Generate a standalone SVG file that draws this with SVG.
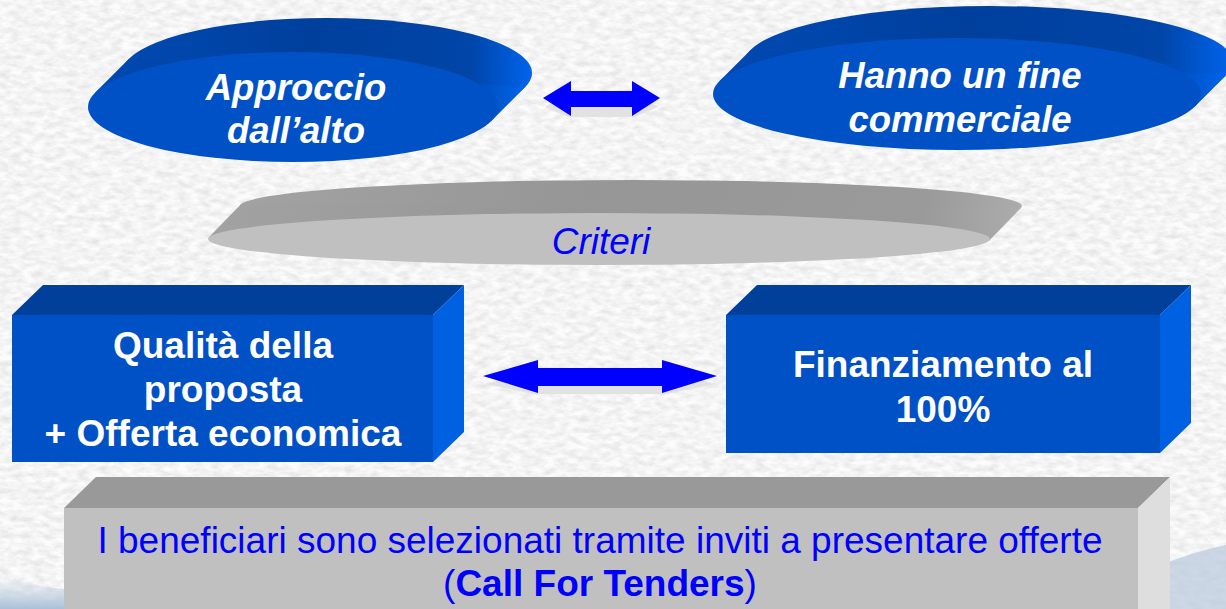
<svg xmlns="http://www.w3.org/2000/svg" width="1226" height="609" viewBox="0 0 1226 609">
  <defs>
    <filter id="paper" x="0" y="0" width="1226" height="609" filterUnits="userSpaceOnUse">
      <feTurbulence type="fractalNoise" baseFrequency="0.09 0.18" numOctaves="4" seed="7" result="n"/>
      <feColorMatrix in="n" type="matrix" values="0.4 0 0 0 0.72  0.4 0 0 0 0.72  0.4 0 0 0 0.72  0 0 0 0 1"/>
    </filter>
    <linearGradient id="blueBand" x1="0" y1="0" x2="1" y2="0">
      <stop offset="0" stop-color="#0049B2"/>
      <stop offset="0.45" stop-color="#003F9C"/>
      <stop offset="0.85" stop-color="#0045A8"/>
      <stop offset="1" stop-color="#0064EC"/>
    </linearGradient>
    <linearGradient id="grayBand" x1="0" y1="0" x2="1" y2="0">
      <stop offset="0" stop-color="#A2A2A2"/>
      <stop offset="0.45" stop-color="#969696"/>
      <stop offset="0.88" stop-color="#9A9A9A"/>
      <stop offset="1" stop-color="#ACACAC"/>
    </linearGradient>
    <linearGradient id="seaL" x1="0" y1="0" x2="0" y2="1">
      <stop offset="0" stop-color="#C9D6E4" stop-opacity="0"/>
      <stop offset="1" stop-color="#A9BFD8"/>
    </linearGradient>
  </defs>
  <style>
    .wt { font-family: "Liberation Sans", Arial, sans-serif; fill: #FFFFFF; font-weight: bold; text-anchor: middle; }
    .it { font-style: italic; font-size: 36.5px; }
    .bx { font-size: 37px; }
    .bl { font-family: "Liberation Sans", Arial, sans-serif; fill: #0000FF; text-anchor: middle; font-size: 37px; }
    .dtop { fill: url(#blueBand); }
    .dface { fill: #0051C6; }
    .btop { fill: #003F9A; }
    .bface { fill: #0050C6; }
    .bside { fill: #0060E2; }
    .arrow { fill: #0000FF; }
    .shadow { fill: #E2E2E2; }
  </style>

  <!-- background -->
  <rect x="0" y="0" width="1226" height="609" fill="#EBEBEB"/>
  <rect x="0" y="0" width="1226" height="609" filter="url(#paper)" opacity="0.85"/>
  <path d="M0 575 Q30 585 70 590 L70 609 L0 609 Z" fill="url(#seaL)"/>
  <path d="M1160 565 Q1200 550 1226 545 L1226 609 L1160 609 Z" fill="#B8C9DC" opacity="0.7"/>

  <!-- Approccio dall'alto -->
  <g id="node-approccio">
    <ellipse cx="327" cy="73" rx="205" ry="55" class="dtop"/>
    <polygon points="95,92.8 129,58.8 525,87.2 491,121.2" fill="url(#blueBand)"/>
    <ellipse cx="293" cy="107" rx="205" ry="55" class="dface"/>
    <text class="wt it" x="296" y="100">Approccio</text>
    <text class="wt it" x="296" y="143">dall’alto</text>
  </g>

  <!-- Hanno un fine commerciale -->
  <g id="node-hanno">
    <ellipse cx="989" cy="62" rx="244" ry="56" class="dtop"/>
    <polygon points="719.1,81.5 751.1,49.5 1226.9,74.5 1194.9,106.5" fill="url(#blueBand)"/>
    <ellipse cx="957" cy="94" rx="244" ry="56" class="dface"/>
    <text class="wt it" x="960" y="88">Hanno un fine</text>
    <text class="wt it" x="960" y="132">commerciale</text>
  </g>

  <!-- Criteri -->
  <g id="node-criteri">
    <ellipse cx="631" cy="206" rx="391" ry="26" fill="url(#grayBand)"/>
    <polygon points="208.9,237.3 240.9,204.3 1021.1,207.7 989.1,240.7" fill="url(#grayBand)"/>
    <ellipse cx="599" cy="239" rx="391" ry="26" fill="#C0C0C0"/>
    <text class="bl" x="601" y="254" font-style="italic" font-size="36">Criteri</text>
  </g>

  <!-- Qualita della proposta -->
  <g id="node-qualita">
    <polygon class="btop" points="12,315 43,285 464,285 433,315"/>
    <polygon class="bside" points="433,315 464,285 464,432 433,462"/>
    <rect class="bface" x="12" y="315" width="421" height="147"/>
    <text class="wt bx" x="223" y="358">Qualità della</text>
    <text class="wt bx" x="223" y="402">proposta</text>
    <text class="wt bx" x="223" y="446">+ Offerta economica</text>
  </g>

  <!-- Finanziamento al 100% -->
  <g id="node-finanziamento">
    <polygon class="btop" points="726,315 757,285 1191,285 1160,315"/>
    <polygon class="bside" points="1160,315 1191,285 1191,423 1160,453"/>
    <rect class="bface" x="726" y="315" width="434" height="138"/>
    <text class="wt bx" x="943" y="377">Finanziamento al</text>
    <text class="wt bx" x="943" y="422">100%</text>
  </g>

  <!-- Call for tenders -->
  <g id="node-tenders">
    <polygon points="64,508 96,477 1170,477 1138,508" fill="#999999"/>
    <polygon points="1138,508 1170,477 1170,620 1138,620" fill="#DEDEDE"/>
    <rect x="64" y="508" width="1074" height="110" fill="#C0C0C0"/>
    <text class="bl" x="600" y="553">I beneficiari sono selezionati tramite inviti a presentare offerte</text>
    <text class="bl" x="600" y="596">(<tspan font-weight="bold">Call For Tenders</tspan>)</text>
  </g>

  <!-- connectors -->
  <g id="connectors">
    <g id="arrow-top">
      <polygon class="shadow" points="545,107 571,91 571,99 632,99 632,91 658,107 632,118 632,117 571,117 571,118"/>
      <polygon class="arrow" points="543,98 571,81 571,91 632,91 632,81 660,98 632,116 632,107 571,107 571,116"/>
    </g>
    <g id="arrow-mid">
      <polygon class="shadow" points="485,384 538,369 538,377 662,377 662,369 715,384 662,395 662,394 538,394 538,395"/>
      <polygon class="arrow" points="483,376 538,360 538,368 662,368 662,360 717,376 662,393 662,386 538,386 538,393"/>
    </g>
  </g>
</svg>
